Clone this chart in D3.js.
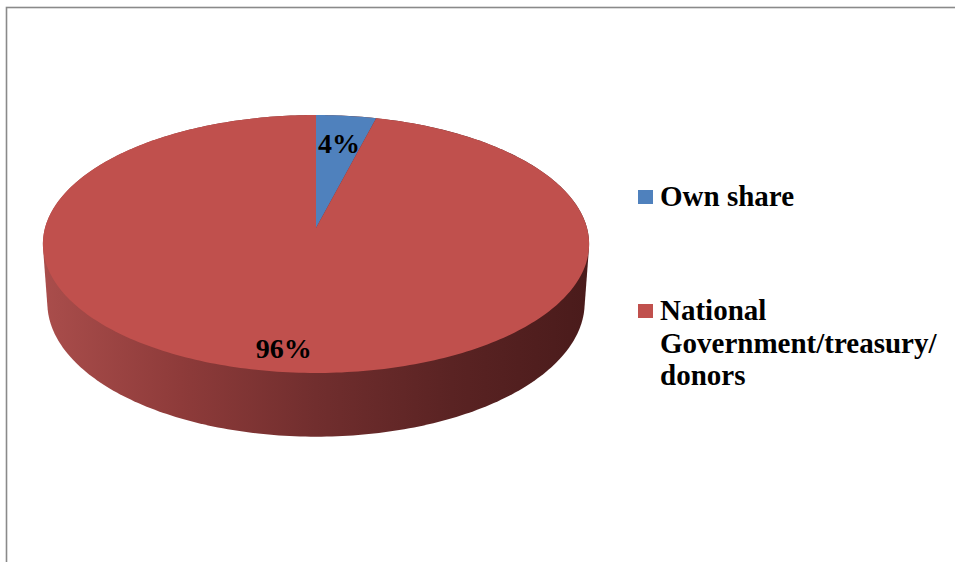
<!DOCTYPE html>
<html>
<head>
<meta charset="utf-8">
<script src="https://cdn.jsdelivr.net/npm/d3@7"></script>
<style>
  html, body { margin: 0; padding: 0; background: #fff; }
  svg { display: block; }
</style>
</head>
<body>
<svg id="chart" width="955" height="562"></svg>
<script>
// Funding sources, shares in percent
const categories = ["Own share", "National Government/treasury/donors"];
const shares = [4, 96];
const shareLabels = ["4%", "96%"];
const legendLines = [["Own share"], ["National", "Government/treasury/", "donors"]];
const sliceColors = ["#4f81bd", "#c0504d"];

const FONT = '"Liberation Serif", "Times New Roman", serif';
const svg = d3.select("#chart");
const W = 955, H = 562;

// frame around the chart area
svg.append("rect")
  .attr("x", 6.5).attr("y", 7.5)
  .attr("width", W + 20).attr("height", H + 20)
  .attr("fill", "none")
  .attr("stroke", "#8a8a8a")
  .attr("stroke-width", 1.6);

// 3D pie geometry: a disc tilted toward the viewer, seen in perspective
const cx = 316, cy = 228;
const R = 271;          // disc radius
const depth = 67;       // disc thickness
const sinA = 0.4686, cosA = Math.sqrt(1 - sinA * sinA);
const D = 1931;         // viewing distance

function project(theta, rho, y) {
  const X = rho * R * Math.sin(theta);
  const Z = rho * R * Math.cos(theta);
  const v = Z * sinA + y * cosA;
  const w = Z * cosA - y * sinA;
  const f = D / (D + w);
  return [cx + X * f, cy - v * f];
}

const pie = d3.pie().sort(null).value(d => d)(shares);

const defs = svg.append("defs");
const grad = defs.append("linearGradient")
  .attr("id", "sideShade")
  .attr("gradientUnits", "userSpaceOnUse")
  .attr("x1", cx - R).attr("x2", cx + R)
  .attr("y1", 0).attr("y2", 0);
[[0, "#a94d4b"], [0.25, "#8e3b3a"], [0.5, "#712e2e"], [0.75, "#5a2323"], [1, "#4a1b1b"]]
  .forEach(([o, c]) => grad.append("stop").attr("offset", o).attr("stop-color", c));

// side wall: hull of the top and bottom rims
const N = 360;
const rimPts = [];
for (let i = 0; i < N; i++) {
  const t = (i / N) * 2 * Math.PI;
  rimPts.push(project(t, 1, 0));
  rimPts.push(project(t, 1, -depth));
}
const hull = d3.polygonHull(rimPts);
svg.append("path")
  .attr("d", "M" + hull.map(p => p.join(",")).join("L") + "Z")
  .attr("fill", "url(#sideShade)");

// top face slices
const line = d3.line();
pie.forEach((s, i) => {
  const pts = [project(0, 0, 0)];
  const steps = Math.max(4, Math.ceil((s.endAngle - s.startAngle) / (Math.PI / 180)));
  for (let k = 0; k <= steps; k++) {
    const t = s.startAngle + (s.endAngle - s.startAngle) * k / steps;
    pts.push(project(t, 1, 0));
  }
  svg.append("path")
    .attr("d", line(pts) + "Z")
    .attr("fill", sliceColors[i]);
});

// value labels on the top face
const labelRho = [0.74, 0.85];
pie.forEach((s, i) => {
  const mid = (s.startAngle + s.endAngle) / 2;
  const [lx, ly] = project(mid, labelRho[i], 0);
  svg.append("text")
    .attr("x", lx).attr("y", ly + 10)
    .attr("text-anchor", "middle")
    .style("font-family", FONT)
    .style("font-weight", "bold")
    .style("font-size", "28px")
    .attr("fill", "#000")
    .text(shareLabels[i]);
});

// legend
const legendX = 638;
const legendTop = [206, 320];
const lineStep = 32.5;
categories.forEach((c, i) => {
  const g = svg.append("g");
  g.append("rect")
    .attr("x", legendX).attr("y", legendTop[i] - 16)
    .attr("width", 15).attr("height", 14)
    .attr("fill", sliceColors[i]);
  const t = g.append("text")
    .attr("x", legendX + 22).attr("y", legendTop[i])
    .style("font-family", FONT)
    .style("font-weight", "bold")
    .style("font-size", "29px")
    .attr("fill", "#000");
  legendLines[i].forEach((ln, j) => {
    t.append("tspan")
      .attr("x", legendX + 22)
      .attr("y", legendTop[i] + j * lineStep)
      .text(ln);
  });
});
</script>
</body>
</html>
